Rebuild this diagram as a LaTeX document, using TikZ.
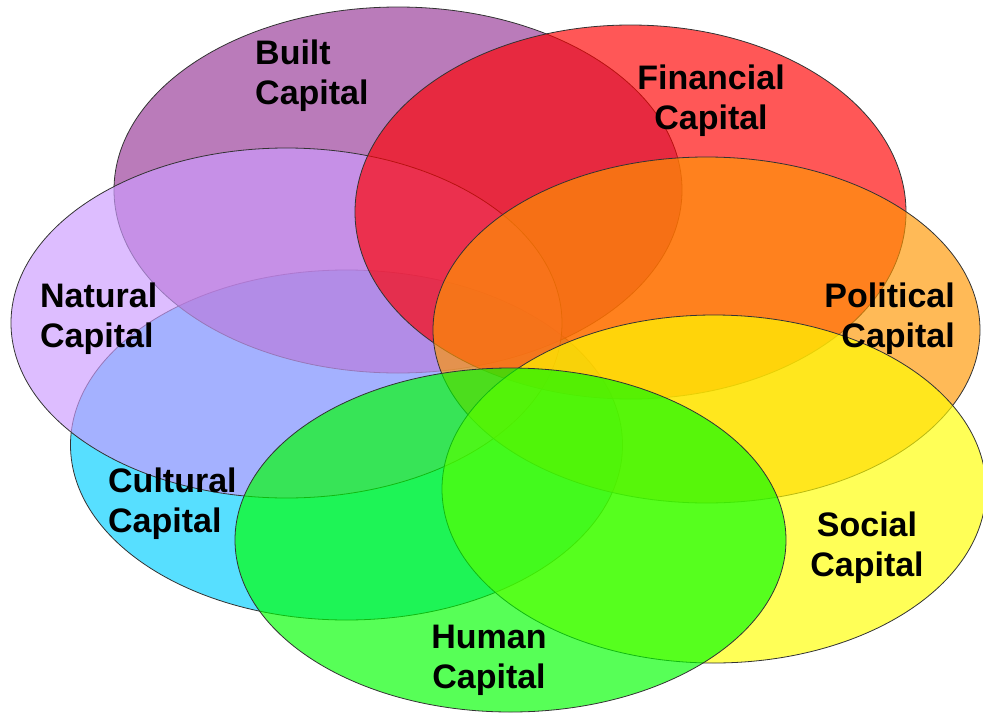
\documentclass[tikz,border=0pt]{standalone}
\usepackage{fontspec}
\setmainfont{Liberation Sans}
\definecolor{builtcol}{RGB}{150,55,150}
\definecolor{financecol}{RGB}{255,0,0}
\definecolor{naturecol}{RGB}{204,155,255}
\definecolor{politicscol}{RGB}{255,150,0}
\definecolor{culturecol}{RGB}{0,206,255}
\definecolor{socialcol}{RGB}{255,255,0}
\definecolor{humancol}{RGB}{0,255,0}
\tikzset{
  capital/.style={draw=black!80, line width=0.8pt, fill=#1, fill opacity=0.66},
  caplabel/.style={inner sep=0pt, font=\bfseries\fontsize{34}{40}\selectfont}
}
\begin{document}
\begin{tikzpicture}[x=1pt,y=-1pt, line join=round, line cap=round]
		\useasboundingbox (0,0) rectangle (983,715);
		% ellipses, back to front
		\draw[capital=culturecol] (346.5,445) ellipse [x radius=276pt, y radius=175pt];
		\draw[capital=builtcol] (398,190) ellipse [x radius=284pt, y radius=183pt];
		\draw[capital=naturecol] (286.5,323) ellipse [x radius=275.5pt, y radius=175pt];
		\draw[capital=financecol] (630.5,212) ellipse [x radius=275.5pt, y radius=187pt];
		\draw[capital=politicscol] (706.5,330) ellipse [x radius=273.5pt, y radius=173pt];
		\draw[capital=socialcol] (714,489) ellipse [x radius=272pt, y radius=174pt];
		\draw[capital=humancol] (510.5,540) ellipse [x radius=275.5pt, y radius=172pt];
		% labels
		\node[caplabel, align=left, anchor=north west] (built) at (255,40) {Built\\Capital};
		\node[caplabel, align=center, anchor=north] (financial) at (711,65) {Financial\\Capital};
		\node[caplabel, align=left, anchor=north west] (natural) at (40,283) {Natural\\Capital};
		\node[caplabel, align=right, anchor=north east] (political) at (955,283) {Political\\Capital};
		\node[caplabel, align=left, anchor=north west] (cultural) at (108,468) {Cultural\\Capital};
		\node[caplabel, align=center, anchor=north] (social) at (867,512) {Social\\Capital};
		\node[caplabel, align=center, anchor=north] (human) at (489,625) {Human\\Capital};
\end{tikzpicture}
\end{document}
